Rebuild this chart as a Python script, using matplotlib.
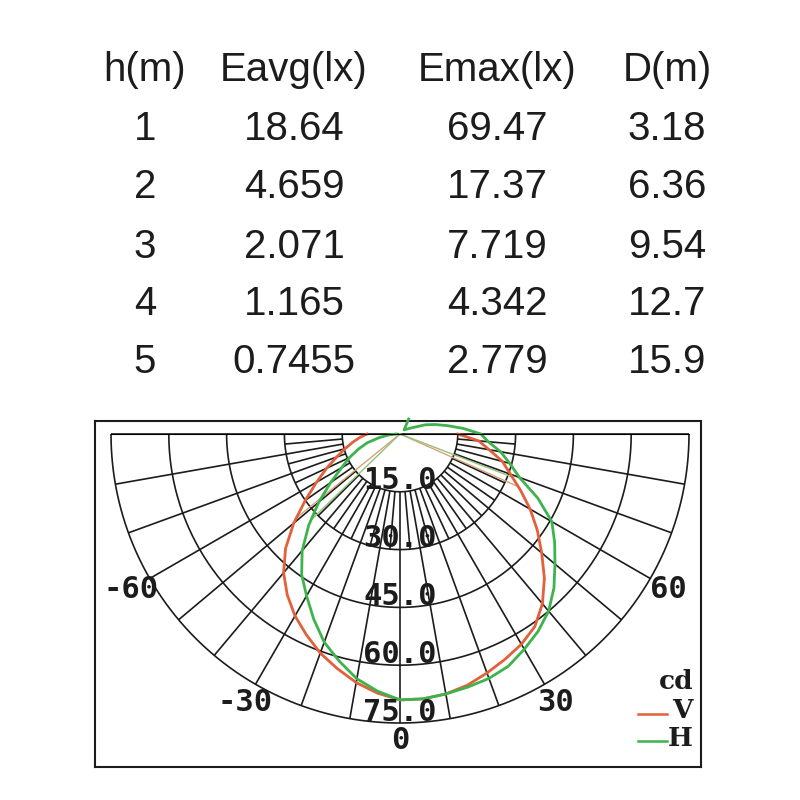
"""
Photometric sheet: illuminance table on top, polar intensity diagram below
"""

import numpy as np
import matplotlib.pyplot as plt
from matplotlib.lines import Line2D

# table data
heights = ["1", "2", "3", "4", "5"]
e_avg = ["18.64", "4.659", "2.071", "1.165", "0.7455"]
e_max = ["69.47", "17.37", "7.719", "4.342", "2.779"]
diameters = ["3.18", "6.36", "9.54", "12.7", "15.9"]
headers = ["h(m)", "Eavg(lx)", "Emax(lx)", "D(m)"]

# polar curves (angle in degrees from nadir, intensity in cd)
v_angles = list(range(-90, 95, 5))
v_values = [8.6, 10.5, 12.5, 14.8, 17.5, 21, 25, 30, 36, 42, 47, 51, 54.5,
            57.5, 60.5, 63, 65.5, 67.5, 69, 69, 68.5, 67.5, 66, 64.5, 63,
            61, 57.5, 53, 48, 43.5, 39, 34.5, 30.5, 27.5, 23.5, 20.5, 15]

h_angles = list(range(-90, 115, 5)) + [120, 135, 150]
h_values = [1, 3, 5.5, 8.8, 11.5, 14.5, 17.5, 22, 27.5, 33.5, 39.5, 44.5,
            48.5, 53, 57.5, 61, 64.5, 67, 69, 69, 68.5, 68, 67.5, 66.5,
            64.5, 62.5, 60, 56.5, 52.5, 49, 45.5, 39.5, 33, 29.5, 26.5, 23,
            21, 16.5, 12.5, 9.5, 7, 3, 1.5, 4.5]

# half-intensity rays (angle, cd)
v_rays = [(-51, 35), (66, 33)]
h_rays = [(-46, 32.3), (69, 31.5)]

rings = [15, 30, 45, 60, 75]
tick_angles = [-60, -30, 0, 30, 60]

RED = '#e2603a'
GREEN = '#3db34d'
RED_THIN = '#d9a27a'
GREEN_THIN = '#93c27a'
INK = '#1c1c1c'

fig = plt.figure(figsize=(8, 8), dpi=100)
fig.patch.set_facecolor('white')

# ---- table ----
col_x = [145, 294, 497, 667]
row_base = [140, 198, 258, 315, 373]
tfont = dict(family='Liberation Sans', fontsize=29, color=INK, ha='center', va='baseline')
for x, head in zip(col_x, headers):
    fig.text(x / 800, 1 - 81 / 800, head, **tfont)
for i, yb in enumerate(row_base):
    for x, val in zip(col_x, [heights[i], e_avg[i], e_max[i], diameters[i]]):
        fig.text(x / 800, 1 - yb / 800, val, **tfont)

# ---- frame around the diagram ----
box = fig.add_axes([95 / 800, 1 - 767 / 800, 606 / 800, 346 / 800])
box.set_xlim(0, 1)
box.set_ylim(0, 1)
box.set_xticks([])
box.set_yticks([])
for s in box.spines.values():
    s.set_linewidth(1.5)
    s.set_color(INK)

# ---- polar diagram ----
# the half-disc is centred vertically inside a square axes, so the square
# is placed with its middle on the 90 deg line
R_PX = 289
CX, CY = 400, 434
ax = fig.add_axes([(CX - R_PX) / 800, 1 - (CY + 1.5 * R_PX) / 800,
                   2 * R_PX / 800, 2 * R_PX / 800], projection='polar')
ax.set_theta_zero_location('S')
ax.set_theta_direction(1)
ax.set_thetamin(-90)
ax.set_thetamax(90)
ax.set_rlim(0, 75)
ax.grid(False)
ax.set_xticks([])
ax.set_yticks([])
for s in ax.spines.values():
    s.set_visible(False)
ax.patch.set_alpha(0)

grid_kw = dict(color=INK, lw=1.2, solid_capstyle='butt', clip_on=False)
arc = np.deg2rad(np.linspace(-90, 90, 361))
for r in rings:
    ax.plot(arc, np.full_like(arc, r), **grid_kw)
for a in range(-90, 91, 10):
    r0 = 0 if abs(a) == 90 else 15
    ax.plot(np.deg2rad([a, a]), [r0, 75], **grid_kw)
for a in range(-85, 90, 10):
    ax.plot(np.deg2rad([a, a]), [15, 30], **grid_kw)

mono = dict(family='DejaVu Sans Mono', fontweight='bold', fontsize=22, color=INK)
for r in rings:
    ax.text(0, r - 0.6, f"{r:.1f}", ha='center', va='baseline', **mono)
for a in tick_angles:
    ax.text(np.deg2rad(a), 80.5 if a else 79.5, str(a),
            ha='center', va='center', clip_on=False, **mono)

# half-intensity rays
for a, r in v_rays:
    ax.plot(np.deg2rad([a, a]), [0, r], color=RED_THIN, lw=1.0, clip_on=False)
for a, r in h_rays:
    ax.plot(np.deg2rad([a, a]), [0, r], color=GREEN_THIN, lw=1.0, clip_on=False)

ax.plot(np.deg2rad(v_angles), v_values, color=RED, lw=2.0, clip_on=False,
        solid_joinstyle='round')
ax.plot(np.deg2rad(h_angles), h_values, color=GREEN, lw=2.0, clip_on=False,
        solid_joinstyle='round')

# ---- legend ----
serif = dict(family='DejaVu Serif', fontweight='bold', fontsize=19, color=INK,
             ha='right', va='center', transform=box.transAxes)
box.text(0.987, 0.246, "cd", **serif)
box.text(0.987, 0.163, "V", **serif)
box.text(0.987, 0.083, "H", **serif)
box.add_line(Line2D([0.896, 0.944], [0.153, 0.153], color=RED, lw=1.8, transform=box.transAxes))
box.add_line(Line2D([0.896, 0.944], [0.075, 0.075], color=GREEN, lw=1.8, transform=box.transAxes))

fig.savefig('out.png', dpi=100, facecolor='white')
